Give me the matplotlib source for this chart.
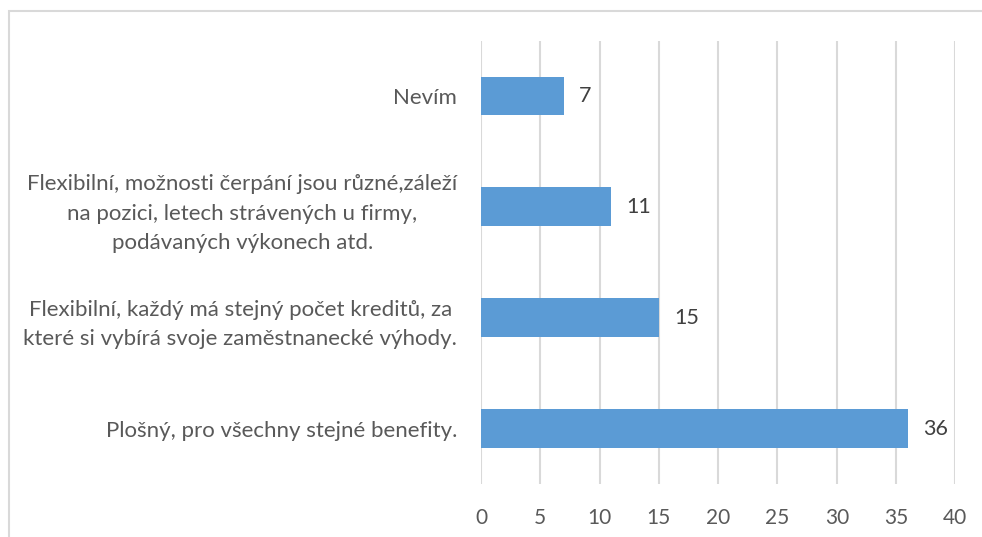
import matplotlib.pyplot as plt
from matplotlib.patches import Rectangle

# data (bottom to top)
categories = [
    'Plošný, pro všechny stejné benefity.',
    'Flexibilní, každý má stejný počet kreditů, za\nkteré si vybírá svoje zaměstnanecké výhody.',
    'Flexibilní, možnosti čerpání jsou různé,záleží\nna pozici, letech strávených u firmy,\npodávaných výkonech atd.',
    'Nevím',
]
values = [36, 15, 11, 7]
xticks = [0, 5, 10, 15, 20, 25, 30, 35, 40]

plt.rcParams['font.family'] = ['Lato', 'DejaVu Sans']

fig = plt.figure(figsize=(9.82, 5.37), dpi=100)
ax = fig.add_axes([0.4898, 0.0987, 0.4831, 0.8257])

# light frame around the chart area (cut off on right/bottom like the original)
fig.patches.append(Rectangle((9 / 982, -0.05), 1.1, 1 - 11 / 537 + 0.05,
                             transform=fig.transFigure, fill=False,
                             edgecolor='#d9d9d9', linewidth=1.5))

pos = range(len(categories))
ax.barh(pos, values, height=0.35, color='#5b9bd5', zorder=3)

for p, v in zip(pos, values):
    ax.annotate(str(v), (v, p), xytext=(11, 0), textcoords='offset points',
                va='center', ha='left', fontsize=15.5, color='#404040')

ax.set_xlim(0, 40)
ax.set_ylim(-0.5, len(categories) - 0.5)
ax.set_xticks(xticks)
ax.set_yticks(list(pos))
ax.set_yticklabels(categories, multialignment='center', linespacing=1.58,
                   fontsize=16)
ax.grid(axis='x', color='#d9d9d9', linewidth=1.5, zorder=0)
ax.tick_params(length=0, colors='#595959')
ax.tick_params(axis='x', pad=17, labelsize=15)
ax.tick_params(axis='y', pad=17)
for s in ax.spines.values():
    s.set_visible(False)

fig.savefig('out.png', dpi=100)
